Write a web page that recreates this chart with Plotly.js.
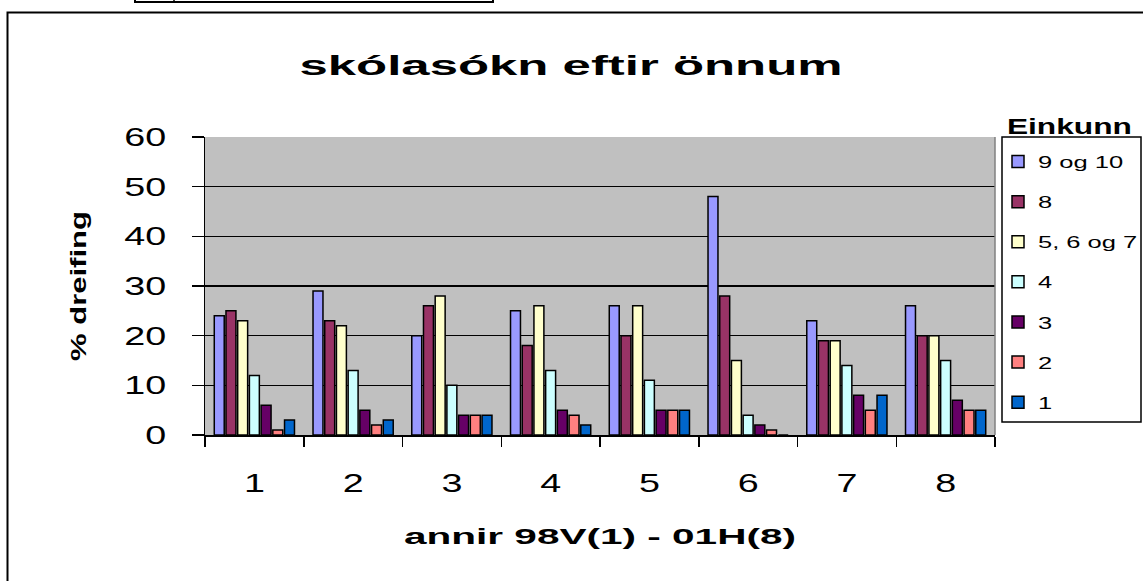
<!DOCTYPE html>
<html>
<head>
<meta charset="utf-8">
<script src="https://cdn.plot.ly/plotly-3.0.1.min.js"></script>
<style>
  html, body { margin: 0; padding: 0; background: #fff; }
  #chart { width: 1143px; height: 581px; }
</style>
</head>
<body>
<div id="chart"></div>
<script>
// terms 98V(1) .. 01H(8)
var terms = ['1', '2', '3', '4', '5', '6', '7', '8'];

var seriesNames = ['9 og 10', '8', '5, 6 og 7', '4', '3', '2', '1'];
var seriesColors = ['#9999FF', '#993366', '#FFFFCC', '#CCFFFF', '#660066', '#FF8080', '#0066CC'];

var grade9og10 = [24, 29, 20, 25, 26, 48, 23, 26];
var grade8     = [25, 23, 26, 18, 20, 28, 19, 20];
var grade567   = [23, 22, 28, 26, 26, 15, 19, 20];
var grade4     = [12, 13, 10, 13, 11, 4, 14, 15];
var grade3     = [6, 5, 4, 5, 5, 2, 8, 7];
var grade2     = [1, 2, 4, 4, 5, 1, 5, 5];
var grade1     = [3, 3, 4, 2, 5, 0, 8, 5];

var allSeries = [grade9og10, grade8, grade567, grade4, grade3, grade2, grade1];

var font = 'Liberation Sans, Arial, sans-serif';

// plot area in pixels: x 205..995, y 137..435
function px(x) { return (x - 205) / 790; }
function py(y) { return (435 - y) / 298; }

var traces = allSeries.map(function (vals, i) {
    return {
        type: 'bar',
        name: seriesNames[i],
        x: terms,
        y: vals,
        legendgroup: 'g' + i,
        marker: {
            color: seriesColors[i],
            line: { color: '#000', width: 1.5 }
        }
    };
});

var layout = {
    width: 1143,
    height: 581,
    margin: { l: 205, r: 148, t: 137, b: 146 },
    paper_bgcolor: '#fff',
    plot_bgcolor: '#C0C0C0',
    barmode: 'group',
    bargap: 0.17,
    bargroupgap: 0.15,
    font: { family: font, color: '#000' },
    title: {
        text: 'skólasókn eftir önnum',
        font: { size: 28, family: font, weight: 'bold' },
        x: px(571), xref: 'paper', xanchor: 'center',
        y: 1 - 65 / 581, yanchor: 'middle'
    },
    xaxis: {
        type: 'category',
        tickson: 'boundaries',
        ticks: 'outside',
        ticklen: 10,
        tickcolor: '#000',
        tickwidth: 1.5,
        showline: true,
        linecolor: '#000',
        linewidth: 1.5,
        showgrid: false,
        tickfont: { size: 26 },
        ticklabelstandoff: 24,
        title: { text: 'annir 98V(1) - 01H(8)', font: { size: 22, weight: 'bold' }, standoff: 32 }
    },
    yaxis: {
        range: [0, 60],
        dtick: 10,
        ticks: 'outside',
        ticklen: 12,
        tickcolor: '#000',
        tickwidth: 1.5,
        showline: true,
        linecolor: '#000',
        linewidth: 1.5,
        gridcolor: '#000',
        gridwidth: 1.6,
        zeroline: false,
        tickfont: { size: 26 },
        ticklabelstandoff: 20,
        title: { text: '% dreifing', font: { size: 22, weight: 'bold' }, standoff: 44 }
    },
    showlegend: true,
    legend: {
        x: px(998), xanchor: 'left',
        y: py(144), yanchor: 'top',
        bgcolor: 'rgba(0,0,0,0)',
        borderwidth: 0,
        font: { size: 17 },
        tracegroupgap: 15,
        itemwidth: 30
    },
    annotations: [{
        text: 'Einkunn',
        xref: 'paper', yref: 'paper',
        x: px(1069), y: py(126),
        xanchor: 'center', yanchor: 'middle',
        showarrow: false,
        font: { size: 22, weight: 'bold' }
    }],
    shapes: [
        // chart frame (right and bottom edges fall outside the picture)
        { type: 'rect', xref: 'paper', yref: 'paper',
          x0: px(7.5), x1: px(1160), y0: py(600), y1: py(12.5),
          line: { color: '#000', width: 2 } },
        // legend box
        { type: 'rect', xref: 'paper', yref: 'paper',
          x0: px(1002), x1: px(1141), y0: py(422), y1: py(137),
          line: { color: '#000', width: 1.5 } },
        // plot area right edge
        { type: 'line', xref: 'paper', yref: 'paper',
          x0: 1, x1: 1, y0: 0, y1: 1,
          line: { color: '#808080', width: 1.5 } },
        // spreadsheet cell fragment at top
        { type: 'rect', xref: 'paper', yref: 'paper',
          x0: px(135), x1: px(493), y0: py(2), y1: py(-20),
          line: { color: '#000', width: 2 } },
        { type: 'line', xref: 'paper', yref: 'paper',
          x0: px(174), x1: px(174), y0: py(2), y1: py(-20),
          line: { color: '#000', width: 1.5 } }
    ]
};

// the original text is drawn wide, so stretch glyphs along the baseline
function stretch(gd, selector, factor, target) {
    gd.querySelectorAll(selector).forEach(function (t) {
        var len = t.getComputedTextLength();
        if (!len) return;
        t.setAttribute('textLength', target ? target : len * factor);
        t.setAttribute('lengthAdjust', 'spacingAndGlyphs');
    });
}

var gd = document.getElementById('chart');
Plotly.newPlot(gd, traces, layout, { displayModeBar: false, staticPlot: true }).then(function () {
    stretch(gd, '.gtitle', 0, 543);
    stretch(gd, '.xtitle', 0, 392);
    stretch(gd, '.ytitle', 0, 150);
    stretch(gd, '.annotation-text', 0, 125);
    stretch(gd, '.xtick text', 1.45);
    stretch(gd, '.ytick text', 1.45);
    stretch(gd, '.legendtext', 1.5);
    // wider legend labels must not be clipped
    gd.querySelectorAll('.legend [clip-path], .legend').forEach(function (el) {
        el.removeAttribute('clip-path');
    });
});
</script>
</body>
</html>
